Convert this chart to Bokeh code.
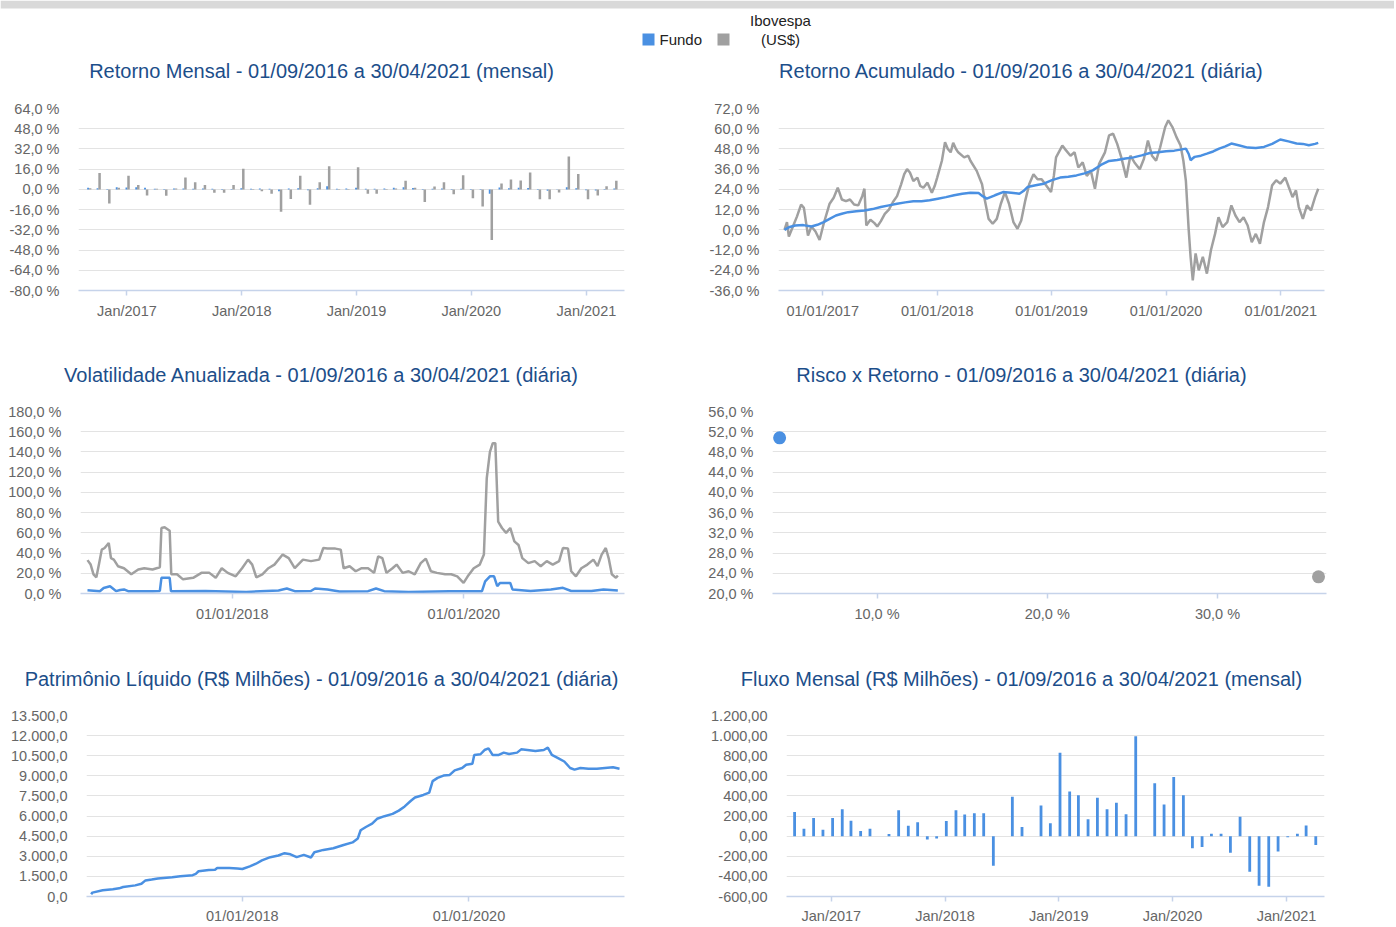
import pandas as pd
from bokeh.plotting import figure
from bokeh.layouts import column, row
from bokeh.models import FixedTicker, Range1d, ColumnDataSource
from bokeh.transform import dodge
from bokeh.embed import file_html
from bokeh.resources import INLINE
from bokeh.core.properties import value

# ---------------- data ----------------
START = "2016-09-01"
months = pd.date_range("2016-09-01", "2021-04-01", freq="MS")

# monthly returns (%), Sep/2016 .. Apr/2021
fund_monthly = [1.2, 1.0, 0.3, 1.6,
                1.4, 1.6, 1.2, 0.6, 0.4, 0.7, 0.8, 0.6, 0.7, 0.5, 0.3, 0.4,
                0.9, 0.6, 0.7, 0.5, -1.5, 0.8, 1.0, -0.6, 0.9, 2.5, 0.6, 0.8,
                1.3, 0.5, 0.6, 0.8, 1.3, 1.6, 1.1, 0.4, 0.6, 0.8, 0.4, 0.5,
                0.4, 0.3, -3.5, 1.4, 1.0, 1.2, 1.1, 0.3, -1.0, 0.2, 1.6, 1.0,
                -0.6, -0.8, 0.3, 0.8]
ibov_monthly = [1.0, 13.0, -11.1, 1.2,
                10.8, 3.5, -4.9, 0.5, -5.1, 0.8, 9.5, 5.7, 3.5, -2.7, -2.7, 3.5,
                16.3, -0.5, -1.5, -3.5, -17.6, -7.6, 10.8, -12.2, 5.7, 18.4, -0.5, -0.5,
                17.6, -3.5, -3.5, 0.3, 0.8, 6.8, 1.2, -10.0, 2.2, 5.7, -3.8, 11.1,
                -7.0, -13.5, -40.1, 4.6, 7.9, 7.0, 13.3, -7.9, -7.9, -2.4, 26.0, 12.2,
                -7.9, -4.9, 2.4, 6.8]
# monthly net flow (R$ millions)
flow_monthly = [241, 73, 180, 64,
                180, 267, 154, 51, 73, 0, 22, 258, 103, 138, -34, -24,
                151, 258, 216, 229, 229, -293, 0, 393, 90, 0, 306, 129,
                830, 445, 406, 167, 382, 267, 332, 218, 994, 0, 526, 316,
                588, 406, -121, -108, 25, 25, -164, 193, -354, -493, -503, -153,
                -11, 25, 106, -89]

# (days since 01/09/2016, value)
ibov_cum = [(0, 0), (8, 4.5), (14, -4), (27, 2), (40, 8), (53, 15), (62, 13), (75, -3.4), (86, 2),
            (99, -1), (112, -6), (125, 3.6), (144, 15.5), (157, 19), (170, 25), (183, 18), (196, 17),
            (209, 18), (222, 15), (235, 14.5), (248, 20), (255, 24.4), (261, 2.6), (274, 6), (287, 4),
            (296, 2), (307, 5), (320, 9.5), (333, 12), (346, 16.5), (359, 20), (372, 27), (382, 33),
            (391, 36), (400, 34), (411, 29), (424, 31), (433, 26), (443, 25), (456, 28), (470, 22),
            (479, 26), (487, 31), (502, 41), (512, 52), (521, 48), (530, 46), (538, 51.6), (547, 48),
            (554, 46), (573, 43), (586, 44), (593, 41), (613, 35), (630, 27), (639, 17.5), (651, 6.5),
            (664, 3.6), (677, 6.5), (690, 15.5), (703, 22.4), (716, 15.5), (730, 4.6), (743, 0.6),
            (755, 5.6), (768, 17.5), (781, 27.4), (794, 33), (807, 30), (820, 30), (840, 25),
            (850, 22.4), (859, 32), (866, 43), (886, 50), (896, 47.6), (912, 44), (925, 46), (937, 37),
            (951, 40), (964, 32), (977, 35), (990, 24.4), (1003, 39), (1022, 46), (1035, 56),
            (1048, 57), (1061, 51), (1074, 43), (1090, 31), (1103, 44), (1116, 40), (1133, 36),
            (1146, 42), (1159, 53), (1172, 44), (1185, 41), (1198, 49), (1214, 61), (1224, 65),
            (1237, 61), (1250, 55), (1263, 50), (1272, 41), (1280, 29), (1289, 0), (1295, -16),
            (1302, -30), (1311, -14), (1321, -24), (1334, -16), (1347, -26), (1360, -12),
            (1373, -2.4), (1384, 7.5), (1397, 1.6), (1412, 4.6), (1425, 14.5), (1438, 8.5),
            (1451, 4.6), (1464, 7.5), (1477, 2.6), (1490, -7.3), (1503, -2.4), (1516, -8.3),
            (1529, 4.6), (1542, 13.5), (1555, 26.4), (1568, 29.4), (1581, 27.4), (1597, 31),
            (1608, 25.4), (1620, 19.4), (1631, 23.4), (1640, 13.5), (1653, 6.5), (1666, 14.5),
            (1679, 11.5), (1692, 19.4), (1702, 24.4)]
fund_cum = [(0, 0), (14, 1.5), (34, 2.6), (60, 2.8), (86, 2.0), (105, 3), (125, 4.6), (144, 6.5),
            (164, 8.5), (183, 9.5), (203, 10.5), (229, 11), (255, 11.5), (281, 12.3), (307, 13.5),
            (333, 14.5), (359, 15.5), (385, 16.3), (411, 17), (437, 17), (463, 17.5), (489, 18.5),
            (515, 19.4), (541, 20.5), (567, 21.4), (593, 22), (619, 21.8), (632, 20), (645, 18.5),
            (671, 20.5), (697, 22.4), (723, 22), (749, 21.4), (762, 23), (775, 25.4), (801, 26.5),
            (827, 27.4), (853, 29.5), (879, 31), (905, 31.5), (931, 32.3), (957, 33.5), (983, 35.3),
            (1009, 38.5), (1035, 40.9), (1061, 41.5), (1087, 42.3), (1113, 43), (1139, 44.2),
            (1165, 45.6), (1191, 46), (1217, 46.6), (1243, 47), (1263, 47.6), (1280, 48.2),
            (1289, 45), (1295, 41.3), (1302, 42.5), (1308, 43.3), (1328, 44), (1347, 45.2),
            (1367, 46.5), (1386, 48.2), (1406, 49.5), (1425, 51.2), (1451, 50), (1477, 48.8),
            (1503, 48.5), (1529, 49.2), (1555, 51), (1581, 53.6), (1607, 52.5), (1633, 51.2),
            (1653, 51), (1672, 50.2), (1692, 51), (1702, 51.6)]
ibov_vol = [(31, 33), (41, 28.6), (50, 19), (59, 16), (67, 28.6), (76, 43.4), (85, 45), (98, 50),
            (105, 35), (114, 33.5), (127, 27), (146, 25), (169, 19), (191, 23.7), (210, 25),
            (236, 23.7), (259, 26), (264, 64.8), (274, 65.5), (290, 62), (295, 19), (313, 19),
            (332, 14), (364, 15.5), (390, 20.4), (415, 20.4), (435, 15.5), (454, 25), (473, 20.4),
            (498, 17), (518, 25), (537, 33.5), (550, 28.6), (563, 16), (582, 19), (601, 25),
            (620, 28.6), (646, 38.5), (665, 35), (684, 25), (710, 33.5), (735, 32), (761, 33.5),
            (774, 45), (787, 44.4), (812, 44.4), (829, 43.4), (838, 25), (857, 27), (876, 22),
            (895, 25), (915, 25), (934, 20.4), (947, 36.8), (960, 35), (973, 20.4), (992, 25),
            (1005, 28.6), (1024, 20.4), (1043, 22), (1062, 19), (1081, 30), (1097, 34.5),
            (1113, 22), (1132, 20.4), (1158, 19), (1177, 19), (1196, 17), (1216, 10.5), (1229, 17),
            (1248, 25), (1267, 28.6), (1280, 38.5), (1289, 114), (1299, 140), (1308, 148.7),
            (1316, 148.7), (1325, 71), (1337, 64.8), (1350, 60), (1363, 64.8), (1376, 51.6),
            (1389, 48), (1401, 35), (1420, 30), (1440, 32), (1459, 27), (1478, 32), (1497, 28.6),
            (1517, 32), (1529, 45), (1545, 44.4), (1555, 22), (1570, 17), (1587, 25), (1606, 28.6),
            (1625, 33.5), (1638, 27), (1651, 38.5), (1664, 45), (1673, 35), (1683, 19),
            (1696, 15.5), (1702, 17.8)]
fund_vol = [(31, 3.3), (70, 2.3), (82, 5.5), (102, 7.2), (111, 5), (121, 2.3), (134, 3.5), (146, 4),
            (159, 2.3), (236, 2.3), (259, 2.5), (264, 15.5), (290, 15.5), (294, 2.3), (403, 2.5),
            (531, 1.5), (633, 3), (659, 5), (684, 2.3), (735, 2.5), (748, 5), (787, 4), (825, 2),
            (915, 2.3), (940, 5), (966, 2.3), (1043, 1.5), (1171, 2.3), (1274, 2.3), (1284, 12),
            (1299, 17), (1312, 17), (1322, 7.2), (1331, 10.5), (1363, 10.5), (1370, 4),
            (1427, 2.5), (1491, 4), (1529, 5.6), (1555, 2.5), (1619, 2.5), (1657, 4), (1702, 3)]
pl_daily = [(0, 170), (4, 290), (37, 460), (70, 540), (90, 610), (103, 710), (142, 830), (162, 950),
            (175, 1200), (195, 1270), (215, 1345), (261, 1440), (287, 1515), (327, 1590), (337, 1690),
            (346, 1880), (379, 1980), (399, 2000), (406, 2130), (445, 2130), (471, 2080), (487, 2050),
            (511, 2250), (531, 2445), (550, 2690), (577, 2935), (603, 3055), (623, 3230), (642, 3150),
            (662, 2935), (685, 3105), (708, 2910), (719, 3300), (748, 3475), (780, 3595), (813, 3840),
            (842, 4035), (859, 4330), (868, 4940), (885, 5185), (905, 5430), (921, 5795), (945, 5990),
            (971, 6160), (991, 6405), (1010, 6720), (1030, 7140), (1043, 7380), (1070, 7575),
            (1089, 7750), (1100, 8605), (1116, 8850), (1135, 9020), (1155, 9070), (1171, 9410),
            (1195, 9585), (1208, 9830), (1228, 9900), (1234, 10560), (1254, 10610), (1267, 10925),
            (1280, 11050), (1293, 10560), (1313, 10560), (1329, 10730), (1346, 10635),
            (1372, 10730), (1385, 10975), (1405, 10925), (1431, 10855), (1458, 10925),
            (1471, 11100), (1484, 10560), (1504, 10315), (1524, 10070), (1543, 9585), (1557, 9460),
            (1576, 9585), (1602, 9535), (1629, 9535), (1655, 9585), (1681, 9635), (1702, 9535)]

risk_vol = [4.28, 35.93]      # annualized volatility (%)
risk_ret = [50.8, 23.3]       # period return (%)

series_names = ["Fundo", "Ibovespa", "(US$)"]
titles = ["Retorno Mensal - 01/09/2016 a 30/04/2021 (mensal)",
          "Retorno Acumulado - 01/09/2016 a 30/04/2021 (diária)",
          "Volatilidade Anualizada - 01/09/2016 a 30/04/2021 (diária)",
          "Risco x Retorno - 01/09/2016 a 30/04/2021 (diária)",
          "Patrimônio Líquido (R$ Milhões) - 01/09/2016 a 30/04/2021 (diária)",
          "Fluxo Mensal (R$ Milhões) - 01/09/2016 a 30/04/2021 (mensal)"]

# ---------------- style ----------------
BLUE = "#4A90E2"
GREY = "#A0A0A0"
TITLE_C = "#1C4E8A"
TICK_C = "#666666"
GRID_C = "#E3E3E3"
AXIS_C = "#C6D3EA"
BAND_C = "#D9D9D9"
FONT = "Liberation Sans"
TICK_FS = "14.5px"
DAY = 86400000.0
W_LEFT, W_RIGHT = 690, 704
W_ALL = W_LEFT + W_RIGHT


def ms(s):
    return pd.Timestamp(s).value / 1e6


def to_dates(pairs):
    base = pd.Timestamp(START)
    return [base + pd.Timedelta(days=d) for d, _ in pairs], [v for _, v in pairs]


def br(v, dec):
    s = f"{v:,.{dec}f}"
    return s.replace(",", "#").replace(".", ",").replace("#", ".")


def panel(width, bl, brd, bb, xr, yr, xdt=True, x_standoff=7):
    p = figure(width=width, height=8 + 184 + bb, x_range=xr, y_range=yr,
               x_axis_type="datetime" if xdt else "linear",
               toolbar_location=None, output_backend="svg",
               min_border_left=bl, min_border_right=brd, min_border_top=8, min_border_bottom=bb,
               background_fill_color="white", border_fill_color="white")
    p.outline_line_color = None
    p.xgrid.visible = False
    p.ygrid.grid_line_color = GRID_C
    p.ygrid.grid_line_width = 1
    ya = p.yaxis[0]
    ya.axis_line_color = None
    ya.major_tick_line_color = None
    ya.minor_tick_line_color = None
    ya.major_tick_out = 0
    ya.major_tick_in = 0
    ya.major_label_standoff = 19
    ya.major_label_text_font = FONT
    ya.major_label_text_font_size = TICK_FS
    ya.major_label_text_color = TICK_C
    xa = p.xaxis[0]
    xa.axis_line_color = AXIS_C
    xa.axis_line_width = 1.5
    xa.major_tick_line_color = AXIS_C
    xa.major_tick_line_width = 1.5
    xa.major_tick_out = 5
    xa.major_tick_in = 0
    xa.minor_tick_line_color = None
    xa.major_label_standoff = x_standoff
    xa.major_label_text_font = FONT
    xa.major_label_text_font_size = TICK_FS
    xa.major_label_text_color = TICK_C
    return p


def set_ticks(axis, ticks, labels):
    t = FixedTicker(ticks=ticks, minor_ticks=[])
    axis.ticker = t
    axis.major_label_overrides = dict(zip(ticks, labels))
    return t


def header(height):
    h = figure(width=W_ALL, height=height, x_range=Range1d(0, W_ALL), y_range=Range1d(height, 0),
               x_axis_type=None, y_axis_type=None, toolbar_location=None, output_backend="svg",
               min_border=0, background_fill_color="white", border_fill_color="white")
    h.outline_line_color = None
    h.grid.visible = False
    return h


def add_titles(h, y, pair):
    h.text(x=[321, 1021], y=[y, y], text=pair, text_font=value(FONT), text_font_size="20px",
           text_color=TITLE_C, text_align="center", text_baseline="middle")


jan_years = [2017, 2018, 2019, 2020, 2021]

# ---------- Header 1 (band + legend + titles row 1) ----------
h1 = header(100)
h1.quad(left=[0], right=[W_ALL], top=[0], bottom=[8], color=BAND_C, line_color=None)
h1.scatter(x=[648, 723], y=[39, 39], marker="square", size=12, color=[BLUE, GREY], line_color=None)
h1.text(x=[659], y=[39], text=[series_names[0]], text_font=value(FONT), text_font_size="15px",
        text_color="#222222", text_align="left", text_baseline="middle")
h1.text(x=[780, 780], y=[20, 39], text=series_names[1:], text_font=value(FONT), text_font_size="15px",
        text_color="#222222", text_align="center", text_baseline="middle")
add_titles(h1, 70, titles[0:2])

h2 = header(82)
add_titles(h2, 53, titles[2:4])

h3 = header(83)
add_titles(h3, 54, titles[4:6])

# ---------- Panel 1: monthly returns ----------
p1 = panel(W_LEFT, 78, 66, 29, Range1d(ms("2016-07-31"), ms("2021-05-02")), Range1d(-80, 64))
yt = list(range(-80, 65, 16))
set_ticks(p1.yaxis[0], yt, [br(v, 1) + " %" for v in yt])
xt = [ms(f"{y}-01-01") for y in jan_years]
set_ticks(p1.xaxis[0], xt, [f"Jan/{y}" for y in jan_years])
src1 = ColumnDataSource(dict(x=months, fund=fund_monthly, ibov=ibov_monthly))
p1.vbar(x=dodge("x", -1.5 * DAY, range=p1.x_range), top="fund", bottom=0, width=6 * DAY,
        source=src1, color=BLUE, line_color=None)
p1.vbar(x=dodge("x", 5 * DAY, range=p1.x_range), top="ibov", bottom=0, width=8 * DAY,
        source=src1, color=GREY, line_color=None)

# ---------- Panel 2: cumulative returns ----------
p2 = panel(W_RIGHT, 88, W_RIGHT - 634, 29, Range1d(ms("2016-08-13"), ms("2021-05-20")), Range1d(-36, 72))
yt = list(range(-36, 73, 12))
set_ticks(p2.yaxis[0], yt, [br(v, 1) + " %" for v in yt])
set_ticks(p2.xaxis[0], xt, [f"01/01/{y}" for y in jan_years])
d, v = to_dates(ibov_cum)
p2.line(d, v, color=GREY, line_width=2.5)
d, v = to_dates(fund_cum)
p2.line(d, v, color=BLUE, line_width=2.5)

# ---------- Panel 3: volatility ----------
p3 = panel(W_LEFT, 80, 66, 29, Range1d(ms("2016-09-10"), ms("2021-05-21")), Range1d(0, 180))
yt = list(range(0, 181, 20))
set_ticks(p3.yaxis[0], yt, [br(v, 1) + " %" for v in yt])
xt2 = [ms("2018-01-01"), ms("2020-01-01")]
set_ticks(p3.xaxis[0], xt2, ["01/01/2018", "01/01/2020"])
d, v = to_dates(ibov_vol)
p3.line(d, v, color=GREY, line_width=2.5)
d, v = to_dates(fund_vol)
p3.line(d, v, color=BLUE, line_width=2.5)

# ---------- Panel 4: risk x return ----------
p4 = panel(W_RIGHT, 82, W_RIGHT - 636, 29, Range1d(3.862, 36.40), Range1d(20, 56), xdt=False)
yt = list(range(20, 57, 4))
set_ticks(p4.yaxis[0], yt, [br(v, 1) + " %" for v in yt])
set_ticks(p4.xaxis[0], [10, 20, 30], [br(v, 1) + " %" for v in [10, 20, 30]])
p4.scatter(risk_vol, risk_ret, size=13, color=[BLUE, GREY], line_color=None)

# ---------- Panel 5: AUM ----------
p5 = panel(W_LEFT, 86, 66, 27, Range1d(ms("2016-08-17"), ms("2021-05-16")), Range1d(0, 13500),
           x_standoff=6)
yt = list(range(0, 13501, 1500))
set_ticks(p5.yaxis[0], yt, [br(v, 1) for v in yt])
set_ticks(p5.xaxis[0], xt2, ["01/01/2018", "01/01/2020"])
d, v = to_dates(pl_daily)
p5.line(d, v, color=BLUE, line_width=2.5)

# ---------- Panel 6: monthly flows ----------
p6 = panel(W_RIGHT, 96, W_RIGHT - 634, 27, Range1d(ms("2016-08-10"), ms("2021-05-03")), Range1d(-600, 1200),
           x_standoff=6)
yt = list(range(-600, 1201, 200))
set_ticks(p6.yaxis[0], yt, [br(v, 2) for v in yt])
set_ticks(p6.xaxis[0], xt, [f"Jan/{y}" for y in jan_years])
src6 = ColumnDataSource(dict(x=months, flow=flow_monthly))
p6.vbar(x=dodge("x", 4 * DAY, range=p6.x_range), top="flow", bottom=0, width=9 * DAY,
        source=src6, color=BLUE, line_color=None)

layout = column(h1, row(p1, p2), h2, row(p3, p4), h3, row(p5, p6))

open("out.html", "w").write(file_html(layout, INLINE))
